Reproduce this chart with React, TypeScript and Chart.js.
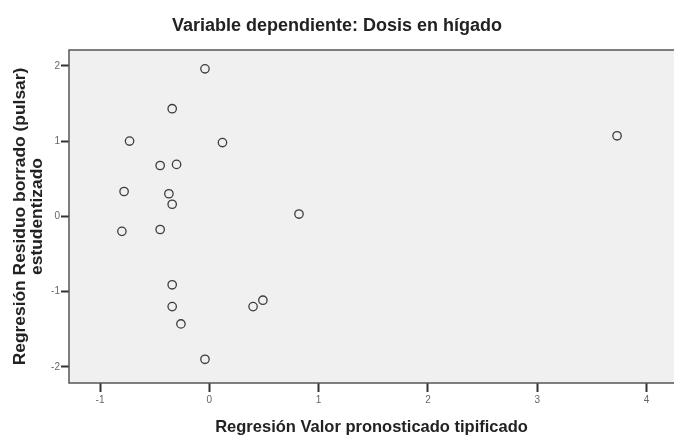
import React, { useEffect, useRef } from "react";
import { Chart, registerables } from "chart.js";

Chart.register(...registerables);

const chartTitle = "Variable dependiente: Dosis en hígado";
const xAxisTitle = "Regresión Valor pronosticado tipificado";
const yAxisTitle = ["Regresión Residuo borrado (pulsar)", "estudentizado"];

// predicted standardized values
const xValues = [
  -0.04, -0.34, -0.73, 0.12, -0.45, -0.3, -0.78, -0.37, -0.34, 0.82,
  -0.8, -0.45, -0.34, -0.34, 0.4, 0.49, -0.26, -0.04, 3.73,
];
// studentized deleted residuals
const yValues = [
  1.96, 1.43, 1.0, 0.98, 0.675, 0.69, 0.33, 0.3, 0.16, 0.03,
  -0.2, -0.175, -0.91, -1.2, -1.2, -1.115, -1.43, -1.9, 1.07,
];

const xMin = -1.284;
const xMax = 4.251;
const yMin = -2.215;
const yMax = 2.21;

const FONT = "'Liberation Sans', Arial, sans-serif";

const framePlugin = {
  id: "frame",
  beforeDraw(chart: any) {
    const { ctx, chartArea } = chart;
    ctx.save();
    ctx.fillStyle = "#f0f0f0";
    ctx.fillRect(chartArea.left, chartArea.top, chartArea.right - chartArea.left + 4, chartArea.bottom - chartArea.top);
    ctx.restore();
  },
  afterDraw(chart: any) {
    const { ctx, chartArea } = chart;
    ctx.save();
    ctx.strokeStyle = "#555555";
    ctx.lineWidth = 1.5;
    ctx.beginPath();
    ctx.moveTo(chartArea.right + 4, chartArea.top);
    ctx.lineTo(chartArea.left, chartArea.top);
    ctx.lineTo(chartArea.left, chartArea.bottom);
    ctx.lineTo(chartArea.right + 4, chartArea.bottom);
    ctx.stroke();
    ctx.restore();
  },
};

export default function App() {
  const ref = useRef<HTMLCanvasElement | null>(null);

  useEffect(() => {
    if (!ref.current) return;
    const data = xValues.map((x, i) => ({ x, y: yValues[i] }));
    const chart = new Chart(ref.current, {
      type: "scatter",
      data: {
        datasets: [
          {
            data,
            pointRadius: 4.2,
            pointHoverRadius: 4.2,
            pointBorderWidth: 1.3,
            pointBorderColor: "#3c3c3c",
            pointBackgroundColor: "rgba(0,0,0,0)",
          },
        ],
      },
      options: {
        animation: false,
        responsive: false,
        devicePixelRatio: 1,
        layout: { padding: 0, autoPadding: false },
        plugins: {
          legend: { display: false },
          tooltip: { enabled: false },
          title: {
            display: true,
            text: chartTitle,
            color: "#222222",
            font: { family: FONT, size: 18, weight: "bold", lineHeight: 1.2 },
            padding: { top: 15.5, bottom: 12.9 },
          },
        },
        scales: {
          x: {
            type: "linear",
            min: xMin,
            max: xMax,
            afterFit(scale: any) {
              scale.height = 53;
              scale.paddingLeft = 0;
              scale.paddingRight = 0;
            },
            ticks: {
              stepSize: 1,
              includeBounds: false,
              color: "#666666",
              font: { family: FONT, size: 10 },
              padding: 2,
              maxRotation: 0,
            },
            grid: {
              display: true,
              drawOnChartArea: false,
              drawTicks: true,
              tickLength: 9,
              tickWidth: 2,
              tickColor: "#333333",
            },
            border: { display: false },
            title: {
              display: true,
              text: xAxisTitle,
              color: "#222222",
              font: { family: FONT, size: 16.5, weight: "bold", lineHeight: 1 },
              padding: { top: 0, bottom: 0 },
            },
          },
          y: {
            type: "linear",
            min: yMin,
            max: yMax,
            afterFit(scale: any) {
              scale.width = 69;
              scale.paddingTop = 0;
              scale.paddingBottom = 0;
            },
            ticks: {
              stepSize: 1,
              includeBounds: false,
              color: "#666666",
              font: { family: FONT, size: 10 },
              padding: 1,
            },
            grid: {
              display: true,
              drawOnChartArea: false,
              drawTicks: true,
              tickLength: 8,
              tickWidth: 2,
              tickColor: "#333333",
            },
            border: { display: false },
            title: {
              display: true,
              text: yAxisTitle,
              color: "#222222",
              font: { family: FONT, size: 17.4, weight: "bold", lineHeight: 1 },
              padding: { top: 11.3, bottom: 0 },
            },
          },
        },
      },
      plugins: [framePlugin],
    });
    return () => chart.destroy();
  }, []);

  return (
    <div style={{ position: "absolute", left: 0, top: 0, width: 674, height: 436, background: "#ffffff" }}>
      <canvas ref={ref} width={674} height={436} style={{ display: "block" }} />
    </div>
  );
}
